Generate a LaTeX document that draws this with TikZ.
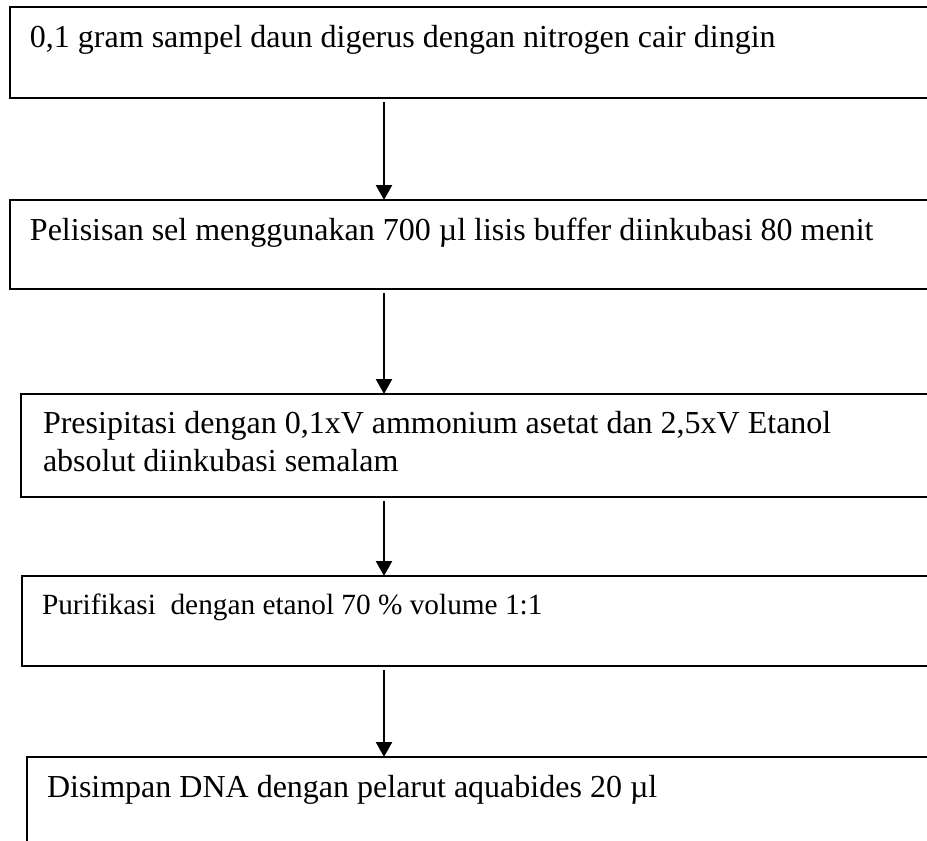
\documentclass[tikz,border=0pt]{standalone}
\usepackage{fontspec}
\setmainfont{Liberation Serif}
\usetikzlibrary{arrows.meta}
\begin{document}
\begin{tikzpicture}[x=1pt,y=-1pt,
  stepbox/.style={draw=black,line width=2.8pt,rectangle,anchor=north west,inner sep=0pt,outer sep=0pt,minimum width=950pt},
  txt/.style={anchor=base west,inner sep=0pt,outer sep=0pt,font=\fontsize{32}{37}\selectfont},
  txtsmall/.style={anchor=base west,inner sep=0pt,outer sep=0pt,font=\fontsize{29.3}{34}\selectfont},
  arr/.style={line width=2.4pt,-{Triangle[width=16pt,length=15pt]},shorten <=4pt}]
\useasboundingbox (0,0) rectangle (927,841);
\clip (0,0) rectangle (927,841);
\coordinate (ax) at (384,0);
\node[stepbox,minimum height=91pt] (b1) at (10,7) {};
\node[stepbox,minimum height=89pt] (b2) at (10,200) {};
\node[stepbox,minimum height=103pt] (b3) at (21,394) {};
\node[stepbox,minimum height=90pt] (b4) at (22,576) {};
\node[stepbox,minimum height=100pt] (b5) at (27,757) {};
\node[txt] (t1) at (30,47) {0,1 gram sampel daun digerus dengan nitrogen cair dingin};
\node[txt] (t2) at (30,240) {Pelisisan sel menggunakan 700 µl lisis buffer diinkubasi 80 menit};
\node[txt] (t3a) at (43,433) {Presipitasi dengan 0,1xV ammonium asetat dan 2,5xV Etanol};
\node[txt] (t3b) at (43,471) {absolut diinkubasi semalam};
\node[txtsmall] (t4) at (42,614) {Purifikasi~~dengan etanol 70 \% volume 1:1};
\node[txt] (t5) at (47,797) {Disimpan DNA dengan pelarut aquabides 20 µl};
\draw[arr] (b1.south -| ax) -- (b2.north -| ax);
\draw[arr] (b2.south -| ax) -- (b3.north -| ax);
\draw[arr] (b3.south -| ax) -- (b4.north -| ax);
\draw[arr] (b4.south -| ax) -- (b5.north -| ax);
\end{tikzpicture}
\end{document}
